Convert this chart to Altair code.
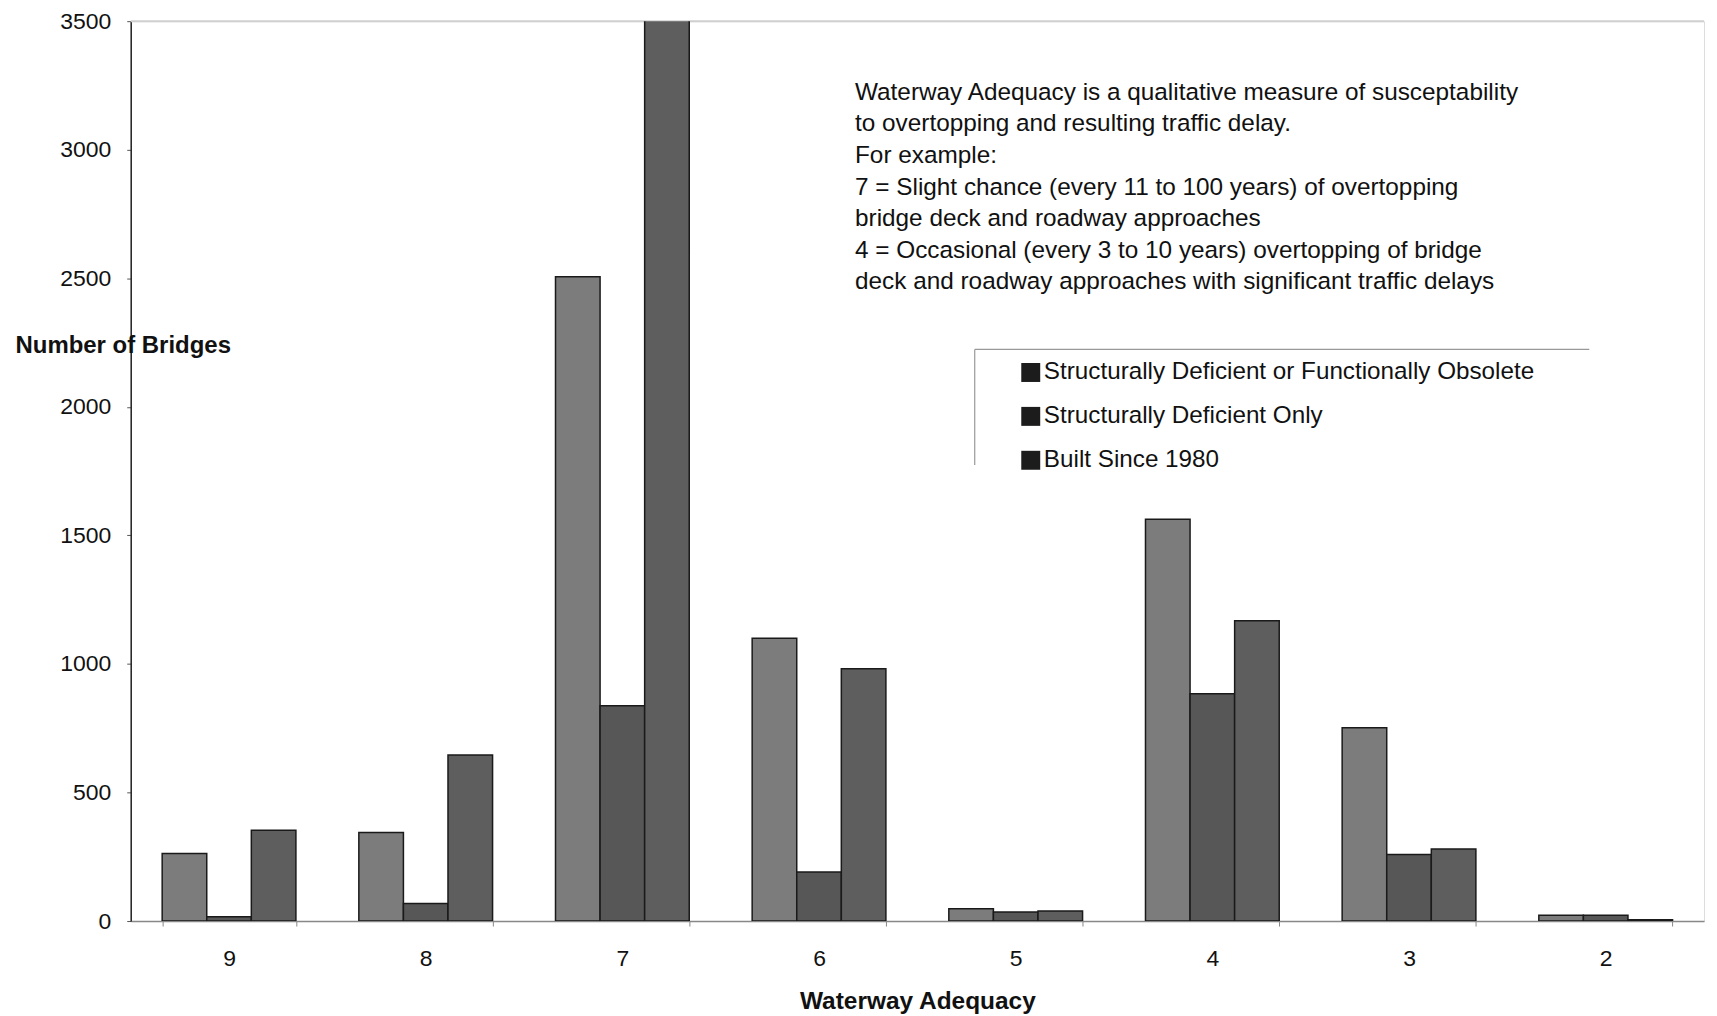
import altair as alt
import pandas as pd

categories = ["9", "8", "7", "6", "5", "4", "3", "2"]
series_names = [
    "Structurally Deficient or Functionally Obsolete",
    "Structurally Deficient Only",
    "Built Since 1980",
]
sd_or_fo = [263, 344, 2506, 1100, 48, 1563, 752, 23]
sd_only = [17, 68, 837, 191, 35, 884, 259, 23]
built_1980 = [353, 646, 3600, 981, 39, 1168, 280, 5]
colors = ["#7c7c7c", "#575757", "#5e5e5e"]
y_ticks = [0, 500, 1000, 1500, 2000, 2500, 3000, 3500]

note_lines = [
    "Waterway Adequacy is a qualitative measure of susceptability",
    "to overtopping and resulting traffic delay.",
    "For example:",
    "7 = Slight chance (every 11 to 100 years) of overtopping",
    "bridge deck and roadway approaches",
    "4 = Occasional (every 3 to 10 years) overtopping of bridge",
    "deck and roadway approaches with significant traffic delays",
]

rows = []
for vals, name in zip([sd_or_fo, sd_only, built_1980], series_names):
    for c, v in zip(categories, vals):
        rows.append({"Waterway Adequacy": c, "Series": name, "Bridges": v})
df = pd.DataFrame(rows)

FONT = "Liberation Sans"
W, H = 1577, 902

bars = alt.Chart(df).mark_bar(stroke="#1a1a1a", strokeWidth=1.5, clip=True).encode(
    x=alt.X(
        "Waterway Adequacy:N",
        sort=categories,
        scale=alt.Scale(paddingInner=0.32, paddingOuter=0.16),
        axis=alt.Axis(
            title="Waterway Adequacy",
            labelAngle=0,
            tickBand="extent",
            labelFont=FONT,
            labelFontSize=23,
            labelColor="#111",
            labelPadding=22,
            tickSize=5,
            tickColor="#888",
            domainColor="#888",
            domainWidth=1.5,
            titleFont=FONT,
            titleFontSize=24.5,
            titleFontWeight="bold",
            titleColor="#111",
            titlePadding=19,
        ),
    ),
    xOffset=alt.XOffset("Series:N", sort=series_names, scale=alt.Scale(paddingInner=0, paddingOuter=0)),
    y=alt.Y(
        "Bridges:Q",
        scale=alt.Scale(domain=[0, 3500], nice=False, zero=True),
        axis=alt.Axis(
            values=y_ticks,
            format="d",
            grid=False,
            title="Number of Bridges",
            titleAngle=0,
            titleAlign="left",
            titleBaseline="middle",
            titleX=-116,
            titleY=325,
            titleFont=FONT,
            titleFontSize=24,
            titleFontWeight="bold",
            titleColor="#111",
            labelFont=FONT,
            labelFontSize=23,
            labelColor="#111",
            labelPadding=16,
            tickSize=4,
            tickColor="#555",
            domainColor="#222",
            domainWidth=1.5,
        ),
    ),
    color=alt.Color(
        "Series:N",
        sort=series_names,
        scale=alt.Scale(domain=series_names, range=colors),
        legend=alt.Legend(
            title=None,
            orient="none",
            legendX=890,
            legendY=340,
            symbolType="square",
            symbolSize=81,
            symbolStrokeColor="#1c1c1c",
            symbolStrokeWidth=10,
            labelFont=FONT,
            labelFontSize=24.3,
            labelColor="#111",
            labelOffset=1,
            rowPadding=-6,
            labelLimit=800,
        ),
    ),
)

top_line = alt.Chart(pd.DataFrame({"y": [3500]})).mark_rule(color="#cfcfcf", strokeWidth=2).encode(
    y="y:Q", x=alt.value(0), x2=alt.value(W)
)

legend_top = alt.Chart(pd.DataFrame({"a": [0]})).mark_rule(color="#999", strokeWidth=1.2).encode(
    x=alt.value(846), x2=alt.value(1462), y=alt.value(329)
)
legend_left = alt.Chart(pd.DataFrame({"a": [0]})).mark_rule(color="#999", strokeWidth=1.2).encode(
    x=alt.value(846), y=alt.value(329), y2=alt.value(445)
)

note = alt.Chart(pd.DataFrame({"a": [0]})).mark_text(
    text=note_lines,
    align="left",
    baseline="top",
    font=FONT,
    fontSize=24.4,
    lineHeight=31.6,
    color="#111",
).encode(x=alt.value(726), y=alt.value(60))

chart = (
    alt.layer(top_line, bars, legend_top, legend_left, note)
    .properties(
        width=W,
        height=H,
        autosize=alt.AutoSizeParams(type="none"),
        padding={"left": 123, "top": 12, "right": 5, "bottom": 100},
    )
    .configure_view(stroke=None)
    .configure(background="white")
)

chart.save("out.html", embed_options={"renderer": "svg", "actions": False})
